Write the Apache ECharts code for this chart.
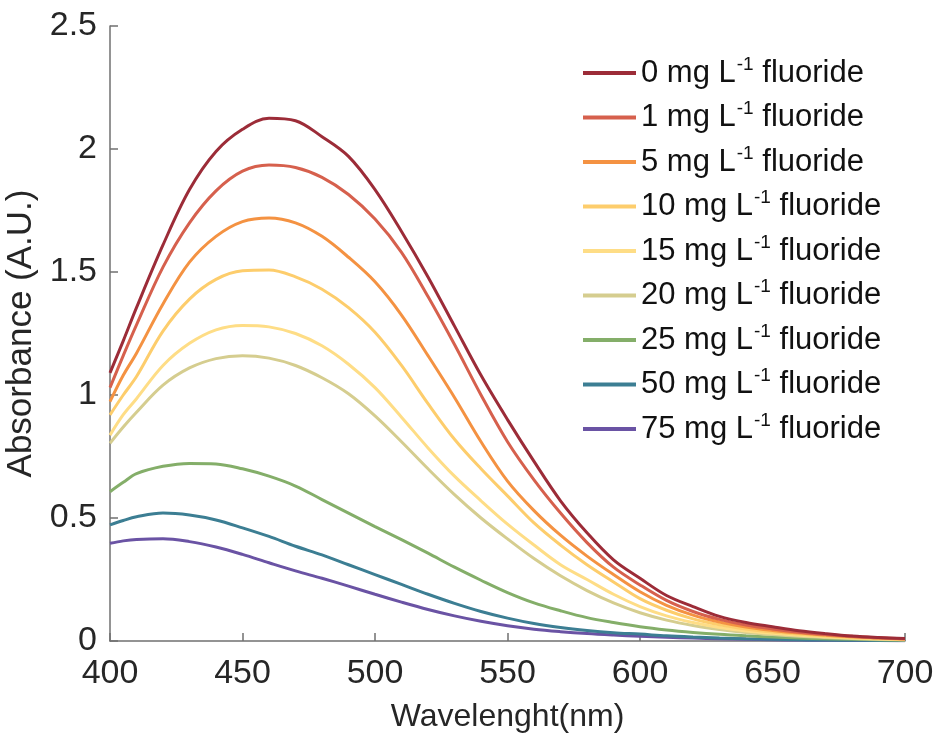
<!DOCTYPE html>
<html>
<head>
<meta charset="utf-8">
<script src="https://cdn.jsdelivr.net/npm/echarts@6/dist/echarts.min.js"></script>
<style>
  html, body { margin: 0; padding: 0; background: #fff; }
  #chart { width: 933px; height: 735px; }
</style>
</head>
<body>
<div id="chart"></div>
<script>
const wavelengths = [400, 405, 410, 420, 430, 440, 450, 460, 470, 480, 490, 500, 510, 520, 530, 540,
  550, 560, 570, 580, 590, 600, 610, 620, 630, 640, 650, 660, 670, 680, 690, 700];

const concentrations = [0, 1, 5, 10, 15, 20, 25, 50, 75];
const colors = ['#9c2c38', '#d6604d', '#f49242', '#fdcd6c', '#fedd86', '#d5cd8f', '#84ae69', '#3c7e93', '#6a53a4'];

const abs0 = [1.09, 1.22, 1.355, 1.61, 1.835, 1.99, 2.08, 2.125, 2.115, 2.05, 1.97, 1.835, 1.665, 1.48, 1.28, 1.08,
  0.9, 0.73, 0.57, 0.44, 0.33, 0.255, 0.185, 0.14, 0.1, 0.075, 0.058, 0.042, 0.03, 0.02, 0.014, 0.01];
const abs1 = [1.03, 1.16, 1.285, 1.52, 1.7, 1.83, 1.91, 1.935, 1.925, 1.885, 1.815, 1.715, 1.58, 1.4, 1.205, 1.0,
  0.81, 0.655, 0.52, 0.4, 0.3, 0.228, 0.165, 0.12, 0.088, 0.065, 0.049, 0.036, 0.026, 0.019, 0.013, 0.009];
const abs5 = [0.973, 1.08, 1.17, 1.37, 1.54, 1.645, 1.705, 1.72, 1.7, 1.645, 1.56, 1.46, 1.325, 1.16, 0.99, 0.81,
  0.65, 0.53, 0.43, 0.345, 0.27, 0.2, 0.145, 0.105, 0.077, 0.057, 0.043, 0.032, 0.024, 0.017, 0.012, 0.008];
const abs10 = [0.919, 1.0, 1.075, 1.26, 1.39, 1.47, 1.505, 1.508, 1.48, 1.43, 1.355, 1.255, 1.12, 0.965, 0.82, 0.7,
  0.59, 0.48, 0.39, 0.31, 0.24, 0.172, 0.125, 0.09, 0.066, 0.049, 0.037, 0.028, 0.02, 0.014, 0.01, 0.007];
const abs15 = [0.837, 0.92, 0.985, 1.12, 1.21, 1.265, 1.283, 1.277, 1.25, 1.2, 1.125, 1.03, 0.91, 0.785, 0.67, 0.57,
  0.475, 0.39, 0.31, 0.25, 0.19, 0.14, 0.102, 0.075, 0.055, 0.041, 0.031, 0.023, 0.017, 0.012, 0.008, 0.005];
const abs20 = [0.804, 0.87, 0.93, 1.04, 1.11, 1.148, 1.16, 1.15, 1.12, 1.07, 1.005, 0.915, 0.81, 0.7, 0.595, 0.5,
  0.415, 0.335, 0.265, 0.205, 0.155, 0.115, 0.085, 0.063, 0.047, 0.035, 0.026, 0.019, 0.014, 0.01, 0.007, 0.005];
const abs25 = [0.607, 0.645, 0.68, 0.71, 0.722, 0.72, 0.7, 0.67, 0.63, 0.575, 0.52, 0.465, 0.412, 0.357, 0.3, 0.247,
  0.197, 0.155, 0.123, 0.095, 0.075, 0.058, 0.045, 0.035, 0.027, 0.021, 0.016, 0.012, 0.009, 0.007, 0.005, 0.004];
const abs50 = [0.472, 0.49, 0.505, 0.52, 0.512, 0.492, 0.46, 0.425, 0.385, 0.35, 0.31, 0.27, 0.23, 0.19, 0.153, 0.12,
  0.093, 0.071, 0.055, 0.043, 0.034, 0.028, 0.021, 0.016, 0.012, 0.009, 0.007, 0.005, 0.004, 0.003, 0.002, 0.002];
const abs75 = [0.397, 0.407, 0.413, 0.416, 0.404, 0.382, 0.352, 0.318, 0.285, 0.255, 0.223, 0.19, 0.158, 0.128, 0.102, 0.08,
  0.062, 0.048, 0.038, 0.03, 0.024, 0.019, 0.015, 0.012, 0.009, 0.007, 0.005, 0.004, 0.003, 0.002, 0.002, 0.001];

const absorbance = [abs0, abs1, abs5, abs10, abs15, abs20, abs25, abs50, abs75];

const font = '"Liberation Sans", Arial, Helvetica, sans-serif';
const axisColor = '#707070';
const textColor = '#262626';

const chart = echarts.init(document.getElementById('chart'));

chart.setOption({
  animation: false,
  grid: { left: 110, right: 28, top: 26, bottom: 94, containLabel: false, outerBoundsMode: 'none' },
  legend: {
    orient: 'vertical',
    left: 583,
    top: 55,
    padding: 0,
    icon: 'rect',
    itemWidth: 53,
    itemHeight: 4,
    itemGap: 11,
    data: concentrations.map((c) => `${c} mg L-1 fluoride`),
    formatter: (name) => {
      const c = name.split(' ')[0];
      return `{t|${c} mg L}{s|-1}{t| fluoride}`;
    },
    textStyle: {
      color: '#111',
      fontFamily: font,
      rich: {
        t: { fontSize: 31, fontFamily: font, color: '#111', lineHeight: 36 },
        s: { fontSize: 19, fontFamily: font, color: '#111', lineHeight: 19, verticalAlign: 'top', padding: [0, 0, 0, 1] },
      },
    },
  },
  xAxis: {
    type: 'value',
    min: 400,
    max: 700,
    interval: 50,
    name: 'Wavelenght(nm)',
    nameLocation: 'middle',
    nameGap: 60,
    nameTextStyle: { fontSize: 32, fontFamily: font, color: textColor, verticalAlign: 'top' },
    axisLine: { show: true, lineStyle: { color: axisColor, width: 1.5 } },
    axisTick: { show: true, inside: true, length: 8, lineStyle: { color: axisColor, width: 1.5 } },
    axisLabel: { fontSize: 34, fontFamily: font, color: textColor, margin: 16 },
    splitLine: { show: false },
  },
  yAxis: {
    type: 'value',
    min: 0,
    max: 2.5,
    interval: 0.5,
    name: 'Absorbance (A.U.)',
    nameLocation: 'middle',
    nameGap: 66,
    nameTextStyle: { fontSize: 35, fontFamily: font, color: textColor },
    axisLine: { show: true, lineStyle: { color: axisColor, width: 1.5 } },
    axisTick: { show: true, inside: true, length: 8, lineStyle: { color: axisColor, width: 1.5 } },
    axisLabel: { fontSize: 34, fontFamily: font, color: textColor, margin: 13 },
    splitLine: { show: false },
  },
  series: concentrations.map((c, i) => ({
    name: `${c} mg L-1 fluoride`,
    type: 'line',
    data: wavelengths.map((w, j) => [w, absorbance[i][j]]),
    smooth: 0.35,
    showSymbol: false,
    color: colors[i],
    lineStyle: { width: 3, color: colors[i] },
    z: 10 - i,
  })),
});

window.addEventListener('resize', () => chart.resize());
</script>
</body>
</html>
